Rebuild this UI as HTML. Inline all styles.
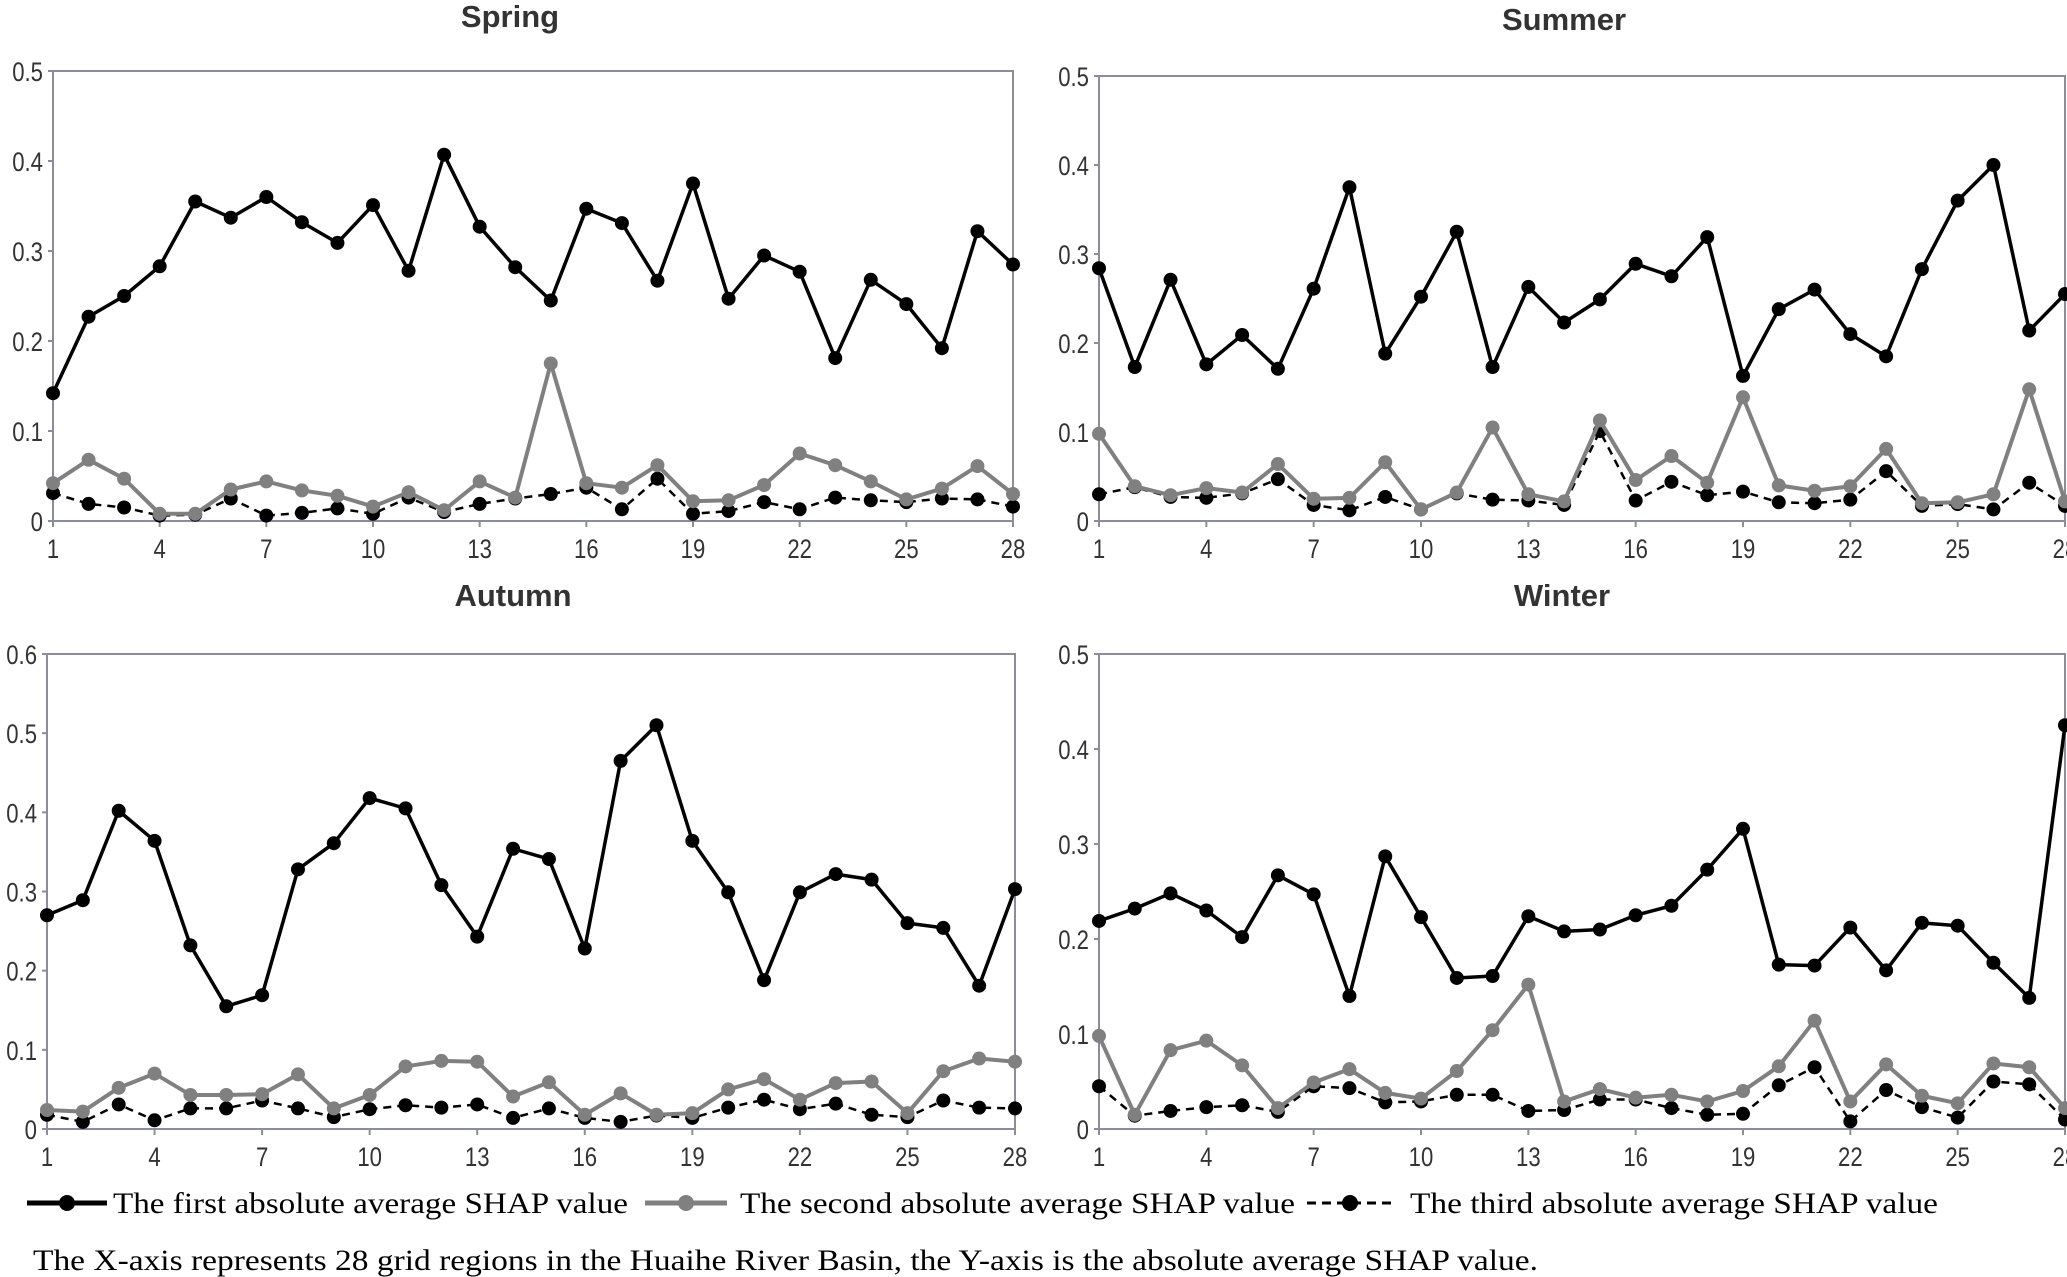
<!DOCTYPE html>
<html><head><meta charset="utf-8"><style>
html,body{margin:0;padding:0;background:#fff;width:2067px;height:1277px;overflow:hidden}
svg{display:block}
</style></head><body>
<svg id="fig" width="2067" height="1277" viewBox="0 0 2067 1277">
<g id="legend" font-family="'Liberation Serif',serif" font-size="30" fill="#000">
  <g>
    <line x1="27" y1="1203" x2="107" y2="1203" stroke="#000" stroke-width="5"/>
    <circle cx="67" cy="1203" r="8" fill="#000"/>
    <text x="113" y="1213" textLength="515" lengthAdjust="spacingAndGlyphs">The first absolute average SHAP value</text>
  </g>
  <g>
    <line x1="645" y1="1203" x2="727" y2="1203" stroke="#808080" stroke-width="5"/>
    <circle cx="686" cy="1203" r="8" fill="#808080"/>
    <text x="740" y="1213" textLength="555" lengthAdjust="spacingAndGlyphs">The second absolute average SHAP value</text>
  </g>
  <g>
    <line x1="1307" y1="1203" x2="1393" y2="1203" stroke="#000" stroke-width="3" stroke-dasharray="9,6"/>
    <circle cx="1350" cy="1203" r="8" fill="#000"/>
    <text x="1410" y="1213" textLength="528" lengthAdjust="spacingAndGlyphs">The third absolute average SHAP value</text>
  </g>
</g>
<text x="33" y="1270" font-family="'Liberation Serif',serif" font-size="30" textLength="1505" lengthAdjust="spacingAndGlyphs">The X-axis represents 28 grid regions in the Huaihe River Basin, the Y-axis is the absolute average SHAP value.</text>
</svg>
<script>
const springFirst=[0.142,0.227,0.250,0.283,0.355,0.337,0.360,0.332,0.309,0.351,0.278,0.407,0.327,0.282,0.245,0.347,0.331,0.267,0.375,0.247,0.295,0.277,0.181,0.268,0.241,0.192,0.322,0.285];
const springSecond=[0.042,0.068,0.047,0.008,0.008,0.035,0.044,0.034,0.028,0.016,0.032,0.012,0.044,0.026,0.175,0.042,0.037,0.062,0.022,0.023,0.040,0.075,0.062,0.044,0.024,0.036,0.061,0.030];
const springThird=[0.031,0.019,0.015,0.006,0.007,0.025,0.006,0.009,0.014,0.008,0.026,0.010,0.019,0.025,0.030,0.037,0.013,0.047,0.008,0.011,0.021,0.013,0.026,0.023,0.021,0.025,0.024,0.016];
const summerFirst=[0.284,0.173,0.271,0.176,0.209,0.171,0.261,0.375,0.188,0.252,0.325,0.173,0.263,0.223,0.249,0.289,0.275,0.319,0.163,0.238,0.260,0.210,0.185,0.283,0.360,0.400,0.214,0.255];
const summerSecond=[0.098,0.039,0.029,0.037,0.032,0.064,0.025,0.026,0.066,0.013,0.032,0.105,0.030,0.022,0.113,0.046,0.073,0.043,0.139,0.040,0.034,0.039,0.081,0.020,0.021,0.030,0.148,0.022];
const summerThird=[0.030,0.038,0.027,0.026,0.031,0.047,0.018,0.012,0.027,0.013,0.031,0.024,0.023,0.018,0.101,0.023,0.044,0.029,0.033,0.021,0.020,0.024,0.056,0.017,0.019,0.013,0.043,0.017];
const autumnFirst=[0.270,0.289,0.402,0.364,0.232,0.155,0.169,0.328,0.361,0.418,0.405,0.308,0.243,0.354,0.341,0.228,0.465,0.510,0.364,0.299,0.188,0.299,0.322,0.315,0.260,0.254,0.181,0.303];
const autumnSecond=[0.024,0.022,0.052,0.070,0.043,0.043,0.044,0.069,0.026,0.043,0.079,0.086,0.085,0.041,0.059,0.018,0.045,0.018,0.020,0.050,0.063,0.037,0.058,0.060,0.020,0.073,0.089,0.085];
const autumnThird=[0.018,0.009,0.031,0.011,0.026,0.026,0.036,0.026,0.015,0.025,0.030,0.027,0.031,0.014,0.026,0.014,0.009,0.017,0.014,0.027,0.037,0.025,0.032,0.018,0.015,0.036,0.027,0.026];
const winterFirst=[0.219,0.232,0.248,0.230,0.202,0.267,0.247,0.140,0.287,0.223,0.159,0.161,0.224,0.208,0.210,0.225,0.235,0.273,0.316,0.173,0.172,0.212,0.167,0.217,0.214,0.175,0.138,0.425];
const winterSecond=[0.098,0.015,0.083,0.093,0.067,0.022,0.049,0.063,0.038,0.032,0.061,0.104,0.152,0.029,0.042,0.033,0.036,0.029,0.040,0.066,0.114,0.029,0.068,0.035,0.027,0.069,0.065,0.022];
const winterThird=[0.045,0.014,0.019,0.023,0.025,0.018,0.045,0.043,0.028,0.029,0.036,0.036,0.019,0.020,0.031,0.031,0.022,0.015,0.016,0.046,0.065,0.008,0.041,0.023,0.012,0.050,0.047,0.010];
const xTickLabels=[1,4,7,10,13,16,19,22,25,28];
const yTicksHalf=[0,0.1,0.2,0.3,0.4,0.5];
const yTicksSix=[0,0.1,0.2,0.3,0.4,0.5,0.6];

const NS='http://www.w3.org/2000/svg';
const svg=document.getElementById('fig');
function mk(tag,attrs,parent){const e=document.createElementNS(NS,tag);for(const k in attrs)e.setAttribute(k,attrs[k]);parent.appendChild(e);return e;}

function panel(key,title,L,R,T,B,ymax,yTicks,series,titleX,titleY){
  const g=mk('g',{},svg);
  
  
  const xs=i=>L+(i-1)*(R-L)/27;
  const ys=v=>B-v/ymax*(B-T);
  const t=mk('text',{x:titleX,y:titleY,'text-anchor':'middle','font-family':"'Liberation Sans',sans-serif",'font-weight':'bold','font-size':'31',fill:'#333'},g);
  t.textContent=title;
  
  
  const box=mk('rect',{x:L,y:T,width:R-L,height:B-T,fill:'none',stroke:'#8c8c9c','stroke-width':'2'},g);
  
  
  yTicks.forEach(v=>{
    const y=ys(v);
    mk('line',{x1:L-5,y1:y,x2:L,y2:y,stroke:'#8c8c9c','stroke-width':'2'},g);
    const tx=mk('text',{x:L-10,y:y+10,'text-anchor':'end','font-family':"'Liberation Sans',sans-serif",'font-size':'27',fill:'#333',transform:`translate(${L-10},0) scale(0.82,1) translate(${-(L-10)},0)`},g);
    tx.textContent=String(v);
    
    
  });
  xTickLabels.forEach(n=>{
    const x=xs(n);
    mk('line',{x1:x,y1:B,x2:x,y2:B+6,stroke:'#8c8c9c','stroke-width':'2'},g);
    const tx=mk('text',{x:x,y:B+37,'text-anchor':'middle','font-family':"'Liberation Sans',sans-serif",'font-size':'27',fill:'#333',transform:`translate(${x},0) scale(0.82,1) translate(${-x},0)`},g);
    tx.textContent=String(n);
    
    
  });
  series.forEach(s=>{
    const sg=mk('g',{},g);
    
    
    const pts=s.data.map((v,i)=>xs(i+1)+','+ys(v)).join(' ');
    const pl=mk('polyline',{points:pts,fill:'none',stroke:s.color,'stroke-width':s.w,'stroke-dasharray':s.dash||'none','stroke-linejoin':'round'},sg);
    
    
    s.data.forEach((v,i)=>{
      const c=mk('circle',{cx:xs(i+1),cy:ys(v),r:7,fill:s.color},sg);
      
      
    });
  });
}
function S(a,b,c){return [{name:'third',data:c,color:'#000',w:2.5,dash:'8,6'},{name:'second',data:b,color:'#808080',w:4},{name:'first',data:a,color:'#000',w:3.5}];}
panel('spring','Spring',53,1013,71,521,0.5,yTicksHalf,S(springFirst,springSecond,springThird),510,27);
panel('summer','Summer',1099,2065,76,521,0.5,yTicksHalf,S(summerFirst,summerSecond,summerThird),1564,30);
panel('autumn','Autumn',47,1015,654,1129,0.6,yTicksSix,S(autumnFirst,autumnSecond,autumnThird),513,606);
panel('winter','Winter',1099,2065,654,1129,0.5,yTicksHalf,S(winterFirst,winterSecond,winterThird),1562,606);
</script>
</body></html>
